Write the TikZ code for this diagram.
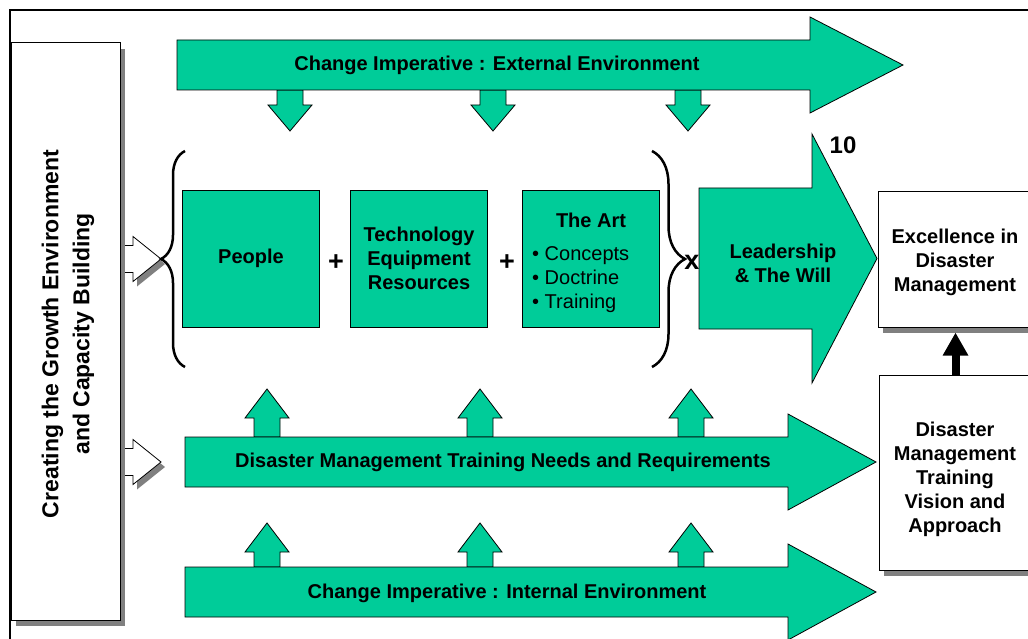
\documentclass[tikz,border=0pt]{standalone}
\usepackage{fontspec}
\setmainfont{Liberation Sans}
\usepackage{xcolor}
\definecolor{ARROWCOLOR}{HTML}{00CC99}
\colorlet{SHADOWCOLOR}{black!50}
\usepackage{tikz}
\usetikzlibrary{arrows.meta,shadows,decorations.pathreplacing}
\newcommand\labelFont{\fontsize{20}{24}\selectfont\bfseries}
\newcommand\itemFont{\fontsize{20}{24}\selectfont\mdseries}
\newcommand\signFont{\fontsize{27}{30}\selectfont\bfseries}
\newcommand\growthFont{\fontsize{23}{31}\selectfont\bfseries}
\tikzset{
  arrow-style/.style = {
    fill=ARROWCOLOR, draw=black, line width=0.8pt, line join=miter
  },
  green-box-style/.style = {
    rectangle, draw, line width=0.8pt, fill=ARROWCOLOR,
    minimum width=137pt,
    minimum height=137pt,
    inner sep=0pt, align=center, font=\labelFont
  },
  white-box-style/.style = {
    rectangle, draw, line width=1pt, fill=white,
    inner sep=0pt, align=center, font=\labelFont,
    drop shadow={shadow xshift=5pt, shadow yshift=-6pt,
                 fill=SHADOWCOLOR, opacity=1}
  },
  brace-style/.style = {
    draw, line width=2.5pt, decorate,
    decoration={brace, amplitude=#1}
  },
  brace-style/.default = 24pt,
  label-style/.style = {inner sep=0pt, align=center, font=\labelFont},
  sign-style/.style = {inner sep=0pt, font=\signFont},
  link-style/.style = {
    line width=8pt, -{Triangle[width=24pt,length=23pt]}, shorten >=5pt
  }
}
\def\createBigArrow name:#1 from:#2 head:#3 tip:#4 top:#5 bottom:#6 extend:#7 text:#8 at:#9;{
  \path[arrow-style] (#2,#5) -- (#3,#5) -- (#3,{#5-#7}) -- (#4,{(#5+#6)/2})
        -- (#3,{#6+#7}) -- (#3,#6) -- (#2,#6) -- cycle;
  \node[label-style] (#1) at #9 {#8};
}
\def\createSmallArrow x:#1 base:#2 neck:#3 tip:#4;{
  \path[arrow-style] ({#1-13},#2) -- ({#1+13},#2) -- ({#1+13},#3) -- ({#1+22},#3)
        -- (#1,#4) -- ({#1-22},#3) -- ({#1-13},#3) -- cycle;
}
\def\createHollowArrow y:#1;{
  \fill[SHADOWCOLOR, shift={(4,5)}] (133,{#1-22.5}) -- (161,#1) -- (133,{#1+22.5}) -- cycle;
  \fill[white] (125,{#1-13.5}) -- (133,{#1-13.5}) -- (133,{#1-22.5}) -- (161,#1)
        -- (133,{#1+22.5}) -- (133,{#1+13.5}) -- (125,{#1+13.5}) -- cycle;
  \draw[line width=0.8pt] (125,{#1-13.5}) -- (133,{#1-13.5}) -- (133,{#1-22.5}) -- (161,#1)
        -- (133,{#1+22.5}) -- (133,{#1+13.5}) -- (125,{#1+13.5});
}

\begin{document}
\begin{tikzpicture}[x=1pt, y=-1pt]
    \useasboundingbox (0,0) rectangle (1028,639);

    % left column
    \node[white-box-style, minimum width=109pt, minimum height=577pt] (growth) at (65.5,331.5) {};
    \node[label-style, font=\growthFont, rotate=90] (growthText) at (68,334)
      {Creating the Growth Environment\\and Capacity Building};
    \createHollowArrow y:259;
    \createHollowArrow y:462;

    % small arrows into the middle row
    \foreach \x in {290,493,688} {\createSmallArrow x:{\x} base:90 neck:105 tip:131;}
    \foreach \x in {267,480,691} {
      \createSmallArrow x:{\x} base:437 neck:418 tip:389;
      \createSmallArrow x:{\x} base:567 neck:552 tip:523;
    }

    \createBigArrow name:external from:177 head:810 tip:903 top:40 bottom:90 extend:23
      text:{Change Imperative : External Environment} at:(497,65);
    \createBigArrow name:needs from:185 head:788 tip:876 top:437 bottom:487 extend:23
      text:{Disaster Management Training Needs and Requirements} at:(503,462);
    \createBigArrow name:internal from:185 head:788 tip:876 top:567 bottom:617 extend:23
      text:{Change Imperative : Internal Environment} at:(507,593);
    \createBigArrow name:leadership from:699 head:812 tip:877 top:188 bottom:329 extend:54
      text:{Leadership\\\& The Will} at:(783,263);

    % the three factors
    \node[green-box-style] (people) at (251,258.5) {People};
    \node[green-box-style] (technology) at (419,258.5) {Technology\\Equipment\\Resources};
    \node[green-box-style] (art) at (590.5,258.5) {};
    \node[label-style] (artTitle) at (591,220) {The Art};
    \node[label-style, font=\itemFont, align=left, anchor=west] (artList) at (532,280)
      {• Concepts\\• Doctrine\\• Training};
    \node[sign-style] (plusA) at (336,263) {+};
    \node[sign-style] (plusB) at (507,263) {+};
    \node[sign-style] (times) at (692,262) {x};
    \node[label-style, font=\fontsize{24}{28}\selectfont\bfseries] (ten) at (843,145) {10};
    \draw[brace-style=24pt] (185,367) -- (185,151);
    \draw[brace-style=33pt] (652,151) -- (652,367);

    % right column
    \node[white-box-style, minimum width=155pt, minimum height=135pt] (excellence) at (955.5,259.5) {};
    \node[label-style] (excellenceText) at (955,262) {Excellence in\\Disaster\\Management};
    \node[white-box-style, minimum width=153pt, minimum height=195pt] (vision) at (955.5,472.5) {};
    \node[label-style] (visionText) at (955,479)
      {Disaster\\Management\\Training\\Vision and\\Approach};
    \draw[link-style] (vision) -- (excellence);

    \draw[line width=2pt] (10,10) rectangle (1040,650);
\end{tikzpicture}
\end{document}
